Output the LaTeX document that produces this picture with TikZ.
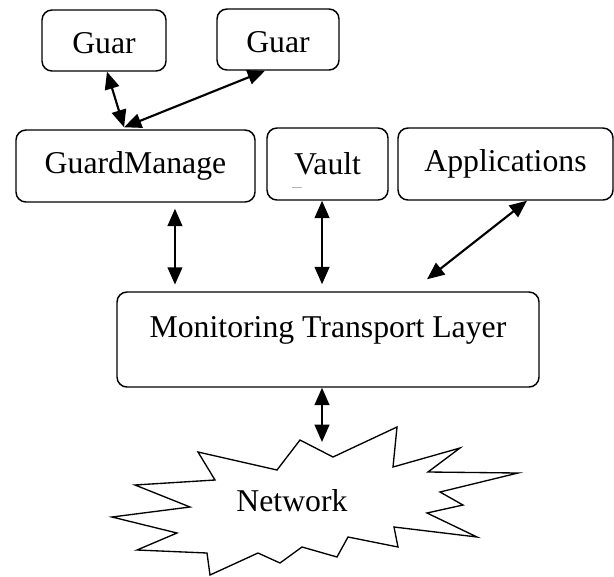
\documentclass[tikz,border=0pt]{standalone}
\usepackage{fontspec}
\setmainfont{Liberation Serif}
\usetikzlibrary{arrows.meta}

\begin{document}
\begin{tikzpicture}[x=0.75pt, y=-0.75pt, <->, >={Triangle[length=13pt,width=11pt]}, line width=1.6pt]
	\useasboundingbox (0,0) rectangle (614,576);
	\fontsize{23.8}{28}\selectfont
	\tikzstyle{main}=[draw=black, rounded corners=7.5pt, line width=1.1pt, inner sep=0pt, minimum height=54pt]
	\tikzstyle{small}=[main, minimum height=45.75pt, text height=18.8pt, text depth=0pt]
	\node[small, minimum width=93pt] (guar1) at (104,40.5) {Guar};
	\node[small, minimum width=91.5pt] (guar2) at (278,39.5) {Guar};
	\node[main, minimum width=179.25pt] (gm) at (135.5,166) {GuardManage};
	\node[main, minimum width=90.75pt] (vault) at (327.5,164) {Vault};
	\node[main, minimum width=161.25pt] (apps) at (505.5,164) {Applications};
	\node[main, minimum width=316.5pt, minimum height=71.25pt, text height=17pt, text depth=19.5pt] (mtl) at (328,339.5) {Monitoring Transport Layer};
	\draw[-, line width=0.8pt, black!30] ([shift={(-26.6pt,9.75pt)}]vault.south) -- ++(7.5pt,0pt);
	% network burst
	\draw[-, line width=1pt, line join=miter] (300,440) -- (333,457) -- (397,427) -- (393,467) -- (460,448) -- (428,472)
		-- (518,473) -- (440,492) -- (463,505) -- (427,513) -- (477,537) -- (394,527) -- (398,547) -- (348,537)
		-- (337,557) -- (302,547) -- (280,563) -- (258,553) -- (210,575) -- (207,553) -- (137,550) -- (177,533)
		-- (112,517) -- (190,507) -- (135,485) -- (215,480) -- (198,452) -- (277,470) -- cycle;
	\node (net) at (292,501) {Network};
	\coordinate (nettop) at (322,442);
	\foreach \g/\dx in {guar1/2.25pt,guar2/-9.75pt} {
		\path ([xshift=\dx]\g.south) edge ([xshift=-8.6pt,yshift=1.5pt]gm.north);
	}
	\path ([xshift=29.6pt]gm.south) edge[shorten <=4.5pt, shorten >=5pt] ([xshift=29.6pt]gm.south |- mtl.north);
	\path ([xshift=-4.1pt]vault.south) edge[shorten >=5.25pt] ([xshift=-4.1pt]vault.south |- mtl.north);
	\path ([xshift=16.1pt]apps.south) edge ([xshift=74.25pt,yshift=9pt]mtl.north);
	\path ([xshift=-4.5pt]mtl.south) edge (nettop);
\end{tikzpicture}
\end{document}
